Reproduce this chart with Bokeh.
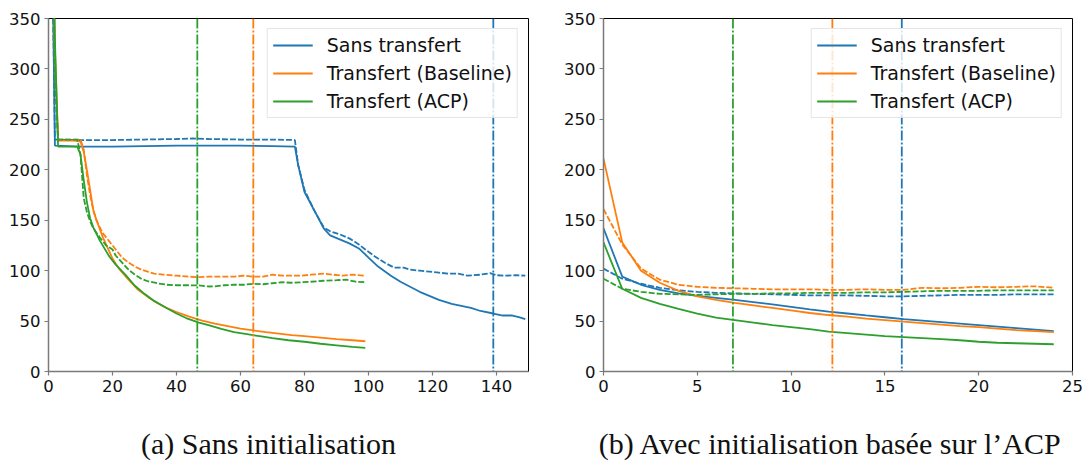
from bokeh.plotting import figure
from bokeh.models import Range1d, Span, Legend, LegendItem, Label, FixedTicker
from bokeh.layouts import row, column
from bokeh.embed import file_html
from bokeh.resources import INLINE

BLUE = "#1f77b4"
ORANGE = "#ff7f0e"
GREEN = "#2ca02c"

LABELS = ["Sans transfert", "Transfert (Baseline)", "Transfert (ACP)"]
CAPTIONS = ["(a) Sans initialisation", "(b) Avec initialisation basée sur l’ACP"]

# ---------------- (a) Sans initialisation ----------------
a_sans_x = [0, 1, 2, 10, 20, 30, 40, 50, 60, 70, 77, 78, 80, 83, 86, 88, 91, 94, 97,
            100, 103, 107, 110, 113, 116, 119, 122, 126, 129, 132, 135, 139, 142, 145, 147, 149]
a_sans_y = [1500, 480, 224, 223, 223, 223.5, 224, 224, 224, 223.5, 223, 205, 178, 160, 142, 135, 131, 127, 122,
            113, 104, 95, 89, 84, 79, 75, 71, 67, 65, 63, 60, 57.5, 55.5, 55.5, 54, 52]
a_sans_val_x = [0, 1, 2, 10, 20, 30, 40, 45, 50, 60, 70, 77, 78, 80, 83, 86, 88, 91, 94, 97, 99,
                102, 105, 108, 111, 113, 116, 119, 122, 125, 128, 131, 135, 138, 140, 143, 146, 149]
a_sans_val_y = [1500, 450, 230, 229.5, 229.5, 230, 230.5, 231, 230.5, 230, 230, 229.5, 205, 180, 160, 143, 139, 136, 132, 126, 121,
                114, 108, 103, 103, 101, 100, 99, 98, 97, 97, 95, 96, 97.5, 95.5, 95, 95.5, 95]

a_base_x = [0, 1, 2, 3, 5, 8, 10, 11, 12, 13, 14, 15, 17, 20, 22, 25, 28, 31, 34, 37, 40, 44, 48, 52,
            56, 60, 64, 68, 72, 76, 80, 85, 90, 95, 99]
a_base_y = [1500, 520, 320, 229, 229, 229, 228, 218, 200, 180, 160, 150, 133, 112, 102, 91, 81, 74, 68, 63, 59, 54.5, 50.5, 47.5,
            45, 42.5, 40.7, 39, 37.5, 36, 35, 33.5, 32, 31, 30]
a_base_val_x = [0, 1, 2, 3, 5, 8, 10, 11, 12, 13, 14, 15, 16, 17, 19, 21, 23, 25, 27, 29, 31, 33, 36, 40, 44,
                47, 50, 54, 58, 61, 64, 67, 70, 73, 76, 79, 82, 86, 89, 92, 95, 99]
a_base_val_y = [1500, 500, 300, 230, 230, 230, 230, 220, 195, 175, 160, 150, 143, 137, 129, 121, 113, 108, 104, 101, 99, 97, 96, 95, 94,
                93.5, 94, 94, 94, 95, 94, 94, 96, 95, 95, 95, 96, 97, 96, 95, 96, 95]

a_acp_x = [0, 1, 2, 3, 6, 9, 10, 11, 12, 13, 14, 16, 19, 21, 24, 27, 30, 33, 36, 40, 43, 47, 50, 54,
           58, 62, 66, 70, 75, 80, 85, 90, 95, 99]
a_acp_y = [1500, 560, 330, 223, 223, 223, 215, 190, 168, 152, 143, 130, 114, 106, 96, 85, 77, 70, 64.5, 57.5, 53, 48.5, 46, 42.3,
           39, 37, 35, 33, 31, 29.5, 27.5, 26, 24.5, 23.5]
a_acp_val_x = [0, 1, 2, 3, 6, 9, 10, 11, 12, 13, 14, 16, 18, 20, 21, 23, 25, 27, 29, 31, 34, 37, 40, 44, 47,
               50, 52, 55, 58, 61, 64, 67, 70, 73, 76, 79, 82, 86, 90, 93, 96, 99]
a_acp_val_y = [1500, 480, 290, 230, 230, 230, 215, 172, 158, 149, 142, 133, 125, 121, 115, 108, 101, 96, 92, 89.5, 87.5, 86, 85.5, 85.5, 85.3,
               84.3, 84.5, 85.5, 86, 86, 87, 86.5, 87.5, 88.5, 88, 88.5, 89, 90, 90.5, 91, 89, 88.5]

# best epochs marked by vertical lines (Sans transfert, Baseline, ACP)
a_marks = [139, 64, 46.5]

# ---------------- (b) Avec initialisation basée sur l'ACP ----------------
b_epochs = list(range(25))
b_sans = [142, 94, 86, 81, 77.5, 75, 73, 71, 68.8, 66.5, 64, 61.5, 59.3, 57.5, 55.6, 53.8, 52, 50.5, 49,
          47.5, 46, 44.5, 43, 41.5, 40]
b_sans_val = [102, 92, 87, 83, 80.5, 79, 78, 77.5, 77, 76.5, 76, 75.5, 75.5, 75.5, 75, 74.5, 74.5, 75, 75.5,
              76, 76, 76, 76.5, 76.5, 76.5]
b_base = [211, 128, 100, 88, 80, 74.5, 71, 68, 65.5, 63, 60.5, 58, 56, 54.5, 52.5, 51, 49.5, 48, 46.5,
          45, 44, 42.5, 41, 40, 39]
b_base_val = [161, 126, 102, 91, 86, 84, 83, 82.5, 82, 81.5, 81.5, 81.5, 81, 81, 81.5, 81, 81, 83, 82.5,
              83, 84, 83.5, 84, 84.5, 83]
b_acp = [128, 82, 73, 67, 62, 57.5, 53.5, 51, 48.5, 46, 44, 42, 39.5, 38, 36.5, 35, 34, 33, 32,
         31, 29.5, 28.5, 28, 27.5, 27]
b_acp_val = [92, 82, 79, 77, 76.5, 76, 76.5, 77, 77, 77.5, 77.5, 78, 78, 78, 78.5, 78.5, 79, 79.5, 80,
             80, 80, 80.5, 80.5, 80.5, 80.5]
b_marks = [15.9, 12.2, 6.9]

y_ticks = [0, 50, 100, 150, 200, 250, 300, 350]
a_x_ticks = [0, 20, 40, 60, 80, 100, 120, 140]
b_x_ticks = [0, 5, 10, 15, 20, 25]

TICK_FONT = "DejaVu Sans"
DASH = "6 2"
DASHDOT = "10 2 2 2"
LW = 1.8


def make_panel(width, border_left, border_right, x_end, x_ticks, series, marks):
    p = figure(width=width, height=400, output_backend="svg", toolbar_location=None,
               x_range=Range1d(0, x_end), y_range=Range1d(0, 350),
               min_border_left=border_left, min_border_right=border_right,
               min_border_top=18, min_border_bottom=29)
    p.grid.visible = False
    p.outline_line_color = "black"
    p.outline_line_width = 1
    p.background_fill_color = "white"
    p.border_fill_color = "white"

    for ax, ticks in ((p.xaxis[0], x_ticks), (p.yaxis[0], y_ticks)):
        ax.ticker = FixedTicker(ticks=ticks)
        ax.axis_line_color = "#7a7a7a"
        ax.axis_line_width = 1.5
        ax.major_tick_line_color = "#7a7a7a"
        ax.major_tick_line_width = 1.2
        ax.major_tick_out = 4
        ax.major_tick_in = 0
        ax.minor_tick_line_color = None
        ax.major_label_text_font = TICK_FONT
        ax.major_label_text_font_size = "16.5px"
        ax.major_label_text_color = "#111111"
    p.xaxis.major_label_standoff = 4
    p.yaxis.major_label_standoff = 4

    colors = [BLUE, ORANGE, GREEN]
    items = []
    for (xs, ys, xv, yv), c, lab in zip(series, colors, LABELS):
        r = p.line(xs, ys, line_color=c, line_width=LW)
        p.line(xv, yv, line_color=c, line_width=LW, line_dash=DASH)
        items.append(LegendItem(label=lab, renderers=[r]))

    for m, c in zip(marks, colors):
        p.add_layout(Span(location=m, dimension="height", line_color=c,
                          line_width=LW, line_dash=DASHDOT))

    legend = Legend(items=items, location="top_right", margin=10, padding=5,
                    spacing=6, label_height=22, glyph_height=22, glyph_width=40,
                    label_standoff=14, label_text_font=TICK_FONT,
                    label_text_font_size="19px", label_text_color="#111111",
                    border_line_color="#cccccc", border_line_width=1,
                    background_fill_color="white", background_fill_alpha=0.8)
    p.add_layout(legend, "center")
    return p


pa = make_panel(560, 48, 32, 150, a_x_ticks,
                [(a_sans_x, a_sans_y, a_sans_val_x, a_sans_val_y),
                 (a_base_x, a_base_y, a_base_val_x, a_base_val_y),
                 (a_acp_x, a_acp_y, a_acp_val_x, a_acp_val_y)],
                a_marks)

pb = make_panel(526, 43, 14, 25, b_x_ticks,
                [(b_epochs, b_sans, b_epochs, b_sans_val),
                 (b_epochs, b_base, b_epochs, b_base_val),
                 (b_epochs, b_acp, b_epochs, b_acp_val)],
                b_marks)

# caption strip: a bare canvas in pixel units holding the two sub-figure captions
caps = figure(width=1086, height=61, output_backend="svg", toolbar_location=None,
              x_range=Range1d(0, 1086), y_range=Range1d(0, 61),
              x_axis_type=None, y_axis_type=None, min_border=0)
caps.grid.visible = False
caps.outline_line_color = None
caps.border_fill_color = "white"
for cx, text in zip([268, 830], CAPTIONS):
    caps.add_layout(Label(x=cx, y=18, text=text, text_align="center",
                          text_baseline="alphabetic", text_font="Liberation Serif",
                          text_font_size="30px", text_color="#111111"))

layout = column(row(pa, pb, spacing=0), caps, spacing=0)
open("out.html", "w").write(file_html(layout, INLINE))
